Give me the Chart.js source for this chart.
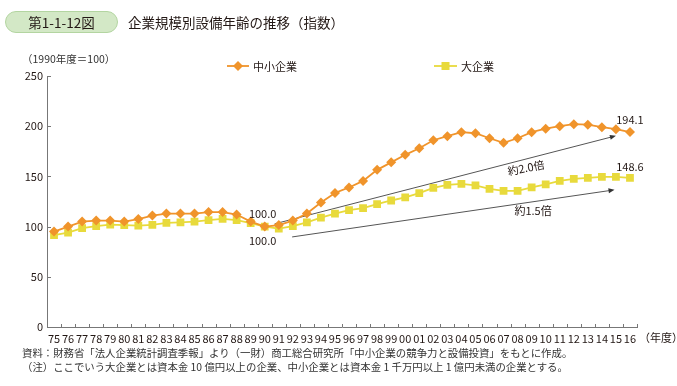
<!DOCTYPE html>
<html><head><meta charset="utf-8">
<script src="https://cdn.jsdelivr.net/npm/chart.js@4.4.0/dist/chart.umd.min.js"></script>
<style>
body{margin:0;background:#fff;font-family:"Noto Sans CJK JP","Noto Sans",sans-serif;color:#231815;}
#wrap{position:relative;width:677px;height:386px;overflow:hidden;background:#fff;}
canvas{position:absolute;left:0;top:0;}
.abs{position:absolute;white-space:nowrap;}
#badge{left:5px;top:11px;width:113px;height:22px;border-radius:11px;background:#d3e8c6;border:1px solid #b3d5a1;box-sizing:border-box;font-size:13.5px;line-height:20px;text-align:center;color:#231815;}
#title{left:128px;top:11px;font-size:13.5px;line-height:22px;}
#unit{left:22px;top:51px;font-size:10.5px;color:#333;}
.note{left:22px;font-size:10.4px;color:#333;line-height:14px;}
.leg{top:58px;font-size:11px;line-height:16px;display:flex;align-items:center;}
.leg svg{margin-right:4px;}
</style></head>
<body>
<div id="wrap">
<canvas id="c" width="677" height="386"></canvas>
<div class="abs" id="badge">第1-1-12図</div>
<div class="abs" id="title">企業規模別設備年齢の推移（指数）</div>
<div class="abs" id="unit">（1990年度＝100）</div>
<div class="abs leg" style="left:227px"><svg width="22" height="12"><line x1="0" y1="6" x2="22" y2="6" stroke="#f0942b" stroke-width="1.8"/><polygon points="11,1 16,6 11,11 6,6" fill="#f0942b"/></svg>中小企業</div>
<div class="abs leg" style="left:434px"><svg width="23" height="12"><line x1="0" y1="6" x2="23" y2="6" stroke="#e8da3c" stroke-width="1.8"/><rect x="7.5" y="2" width="8" height="8" fill="#e8da3c"/></svg>大企業</div>
<div class="abs note" style="top:346px">資料：財務省「法人企業統計調査季報」より（一財）商工総合研究所「中小企業の競争力と設備投資」をもとに作成。</div>
<div class="abs note" style="top:360px">（注）ここでいう大企業とは資本金 10 億円以上の企業、中小企業とは資本金 1 千万円以上 1 億円未満の企業とする。</div>
</div>
<script>
const years = ['75','76','77','78','79','80','81','82','83','84','85','86','87','88','89','90','91','92','93','94','95','96','97','98','99','00','01','02','03','04','05','06','07','08','09','10','11','12','13','14','15','16'];
const smeValues = [95,100,105,106,106,105,107.5,111,113,113,113,114.5,114.5,112,105,100,101.5,106,113,124,133.5,139,145.5,156.5,164,171.5,178,186,190,194,193,188,183.5,188,194,197.5,200,202,201.5,199,197,194.1];
const largeValues = [91.5,94,98.5,100.5,102,101.5,101,101.7,103.7,104.3,105,106.4,107.7,106.4,103.4,100,98,100.4,104.3,109,113,116.5,118.5,122.3,126,129,133.3,138.5,141.5,142.5,141,137.5,135.5,135.5,139,142,145.5,147.5,148.5,149.5,149.5,148.6];
const seriesNames = ['中小企業','大企業'];
const yTicks = [0,50,100,150,200,250];
// annotation arrows in data space: [startIndex, startValue, endIndex, endValue]
const arrows = [[15.7,102.7,40,190.4],[16.95,89.7,39.9,136.6]];
// ratio labels: [text, index, value, keep-horizontal]
const ratioLabels = [['約2.0倍',33.6,158.5,0],['約1.5倍',34.1,115.6,1]];
// value labels: [text, index, value]
const valueLabels = [['194.1',41,206.5],['148.6',41,159.5],['100.0',14.85,112.6],['100.0',14.85,85.7]];

const FONT = '"Noto Sans CJK JP","Noto Sans",sans-serif';
const orange = '#f0942b', yellow = '#e8da3c';

const overlay = {
  id:'overlay',
  beforeDatasetsDraw(chart){
    const ctx = chart.ctx, x = chart.scales.x, y = chart.scales.y;
    ctx.save();
    ctx.strokeStyle = '#555'; ctx.fillStyle = '#333'; ctx.lineWidth = 1;
    arrows.forEach(a=>{
      const x1=x.getPixelForValue(a[0]), y1=y.getPixelForValue(a[1]);
      const x2=x.getPixelForValue(a[2]), y2=y.getPixelForValue(a[3]);
      const ang=Math.atan2(y2-y1,x2-x1);
      ctx.beginPath(); ctx.moveTo(x1,y1); ctx.lineTo(x2-5*Math.cos(ang),y2-5*Math.sin(ang)); ctx.stroke();
      ctx.beginPath();
      ctx.moveTo(x2,y2);
      ctx.lineTo(x2-6*Math.cos(ang)+2.5*Math.sin(ang), y2-6*Math.sin(ang)-2.5*Math.cos(ang));
      ctx.lineTo(x2-6*Math.cos(ang)-2.5*Math.sin(ang), y2-6*Math.sin(ang)+2.5*Math.cos(ang));
      ctx.closePath(); ctx.fill();
    });
    // inward tick marks
    ctx.strokeStyle = '#777';
    const bottom = chart.chartArea.bottom, left = chart.chartArea.left;
    for(let i=0;i<years.length;i++){
      const px = (x.getPixelForValue(i)+x.getPixelForValue(i+1))/2;
      ctx.beginPath(); ctx.moveTo(Math.round(px)+0.5,bottom); ctx.lineTo(Math.round(px)+0.5,bottom-3); ctx.stroke();
    }
    yTicks.forEach(v=>{
      const py = Math.round(y.getPixelForValue(v))+0.5;
      ctx.beginPath(); ctx.moveTo(left,py); ctx.lineTo(left+4,py); ctx.stroke();
    });
    ctx.restore();
  },
  afterDatasetsDraw(chart){
    const ctx = chart.ctx, x = chart.scales.x, y = chart.scales.y;
    ctx.save();
    ctx.fillStyle = '#231815';
    ctx.font = '11px '+FONT;
    ctx.textAlign='center'; ctx.textBaseline='middle';
    valueLabels.forEach(l=>{ ctx.fillText(l[0], x.getPixelForValue(l[1]), y.getPixelForValue(l[2])); });
    ratioLabels.forEach((l,k)=>{
      const a = arrows[k];
      const ang = Math.atan2(y.getPixelForValue(a[3])-y.getPixelForValue(a[1]), x.getPixelForValue(a[2])-x.getPixelForValue(a[0]));
      ctx.save();
      ctx.translate(x.getPixelForValue(l[1]), y.getPixelForValue(l[2]));
      if(!l[3]) ctx.rotate(ang*0.75);
      ctx.fillText(l[0],0,0);
      ctx.restore();
    });
    ctx.textAlign='left';
    ctx.fillText('（年度）', chart.chartArea.right+2, chart.chartArea.bottom+11);
    ctx.restore();
  }
};

new Chart(document.getElementById('c'),{
  type:'line',
  data:{labels:years,datasets:[
    {label:seriesNames[0],data:smeValues,borderColor:orange,backgroundColor:orange,borderWidth:1.8,pointStyle:'rectRot',pointRadius:5,pointBorderWidth:0,tension:0},
    {label:seriesNames[1],data:largeValues,borderColor:yellow,backgroundColor:yellow,borderWidth:1.8,pointStyle:'rect',pointRadius:5.5,pointBorderWidth:0,tension:0}
  ]},
  options:{
    responsive:false,animation:false,devicePixelRatio:1,
    layout:{padding:{left:0,right:40,top:76,bottom:0}},
    plugins:{legend:{display:false},tooltip:{enabled:false}},
    scales:{
      x:{offset:true,grid:{display:false,drawTicks:false},border:{color:'#777',width:1},
         ticks:{autoSkip:false,maxRotation:0,minRotation:0,padding:5,color:'#231815',font:{size:11,family:FONT}},
         afterFit(s){s.height=59;}},
      y:{min:0,max:250,grid:{display:false,drawTicks:false},border:{color:'#777',width:1},
         ticks:{stepSize:50,padding:4,color:'#231815',font:{size:11,family:FONT}},
         afterFit(s){s.width=47;}}
    }
  },
  plugins:[overlay]
});
</script>
</body></html>
